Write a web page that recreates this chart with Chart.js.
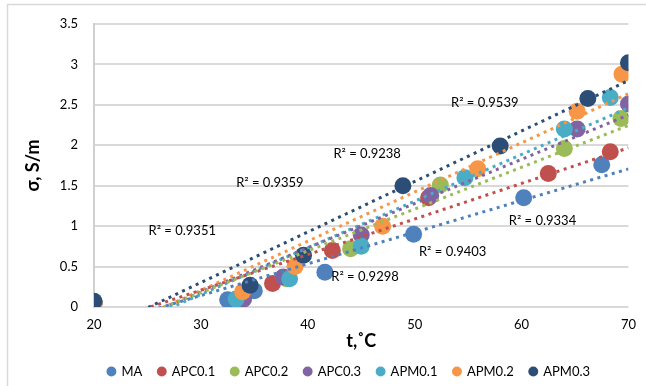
<!DOCTYPE html>
<html>
<head>
<meta charset="utf-8">
<script src="https://cdn.jsdelivr.net/npm/chart.js@4"></script>
<style>
  html, body { margin: 0; padding: 0; background: #fff; }
  #grafico { display: block; }
</style>
</head>
<body>
<canvas id="grafico" width="646" height="386"></canvas>
<script>
// series names and colours
const nomes = ['MA', 'APC0.1', 'APC0.2', 'APC0.3', 'APM0.1', 'APM0.2', 'APM0.3'];
const cores = ['#4F81BD', '#C0504D', '#9BBB59', '#8064A2', '#4BACC6', '#F79646', '#2C4D75'];

// t, °C  /  sigma, S/m
const MA_t = [20, 32.5, 35.0, 41.6, 49.9, 60.2, 67.5];
const MA_s = [0.05, 0.09, 0.20, 0.43, 0.90, 1.35, 1.76];
const APC01_t = [20, 33.5, 36.7, 42.3, 51.3, 62.5, 68.3];
const APC01_s = [0.05, 0.10, 0.29, 0.70, 1.35, 1.65, 1.92];
const APC02_t = [20, 33.9, 38.0, 44.0, 52.4, 64.0, 69.3];
const APC02_s = [0.05, 0.09, 0.35, 0.72, 1.51, 1.96, 2.33];
const APC03_t = [20, 34.0, 37.7, 45.0, 51.5, 65.2, 70.0];
const APC03_s = [0.05, 0.10, 0.37, 0.89, 1.38, 2.20, 2.51];
const APM01_t = [20, 33.3, 38.3, 45.0, 54.7, 64.0, 68.3];
const APM01_s = [0.05, 0.10, 0.35, 0.75, 1.60, 2.20, 2.59];
const APM02_t = [20, 33.9, 38.8, 47.0, 55.9, 65.2, 69.4];
const APM02_s = [0.05, 0.19, 0.50, 1.00, 1.71, 2.42, 2.88];
const APM03_t = [20, 34.6, 39.6, 48.9, 58.0, 66.2, 70.0];
const APM03_s = [0.07, 0.27, 0.64, 1.50, 1.99, 2.58, 3.02];

// R² labels and where they sit (data coords)
const r2_textos = ['R² = 0.9351', 'R² = 0.9359', 'R² = 0.9238', 'R² = 0.9539', 'R² = 0.9334', 'R² = 0.9403', 'R² = 0.9298'];
const r2_t = [25.1, 33.3, 42.4, 53.4, 58.8, 50.4, 42.2];
const r2_s = [0.94, 1.53, 1.90, 2.53, 1.06, 0.68, 0.37];

// x ticks / y ticks
const eixoX = [20, 30, 40, 50, 60, 70];
const eixoY = [0, 0.5, 1, 1.5, 2, 2.5, 3, 3.5];

const series_t = [MA_t, APC01_t, APC02_t, APC03_t, APM01_t, APM02_t, APM03_t];
const series_s = [MA_s, APC01_s, APC02_s, APC03_s, APM01_s, APM02_s, APM03_s];

const fonte = 'Lato, "Open Sans", sans-serif';

function Pontos(t, s) {
  return t.map((v, i) => ({ x: v, y: s[i] }));
}

// linear trend line (least squares) between x = 20 and x = 70
function Tendencia(t, s) {
  const n = t.length;
  const mx = t.reduce((a, b) => a + b, 0) / n;
  const my = s.reduce((a, b) => a + b, 0) / n;
  let sxy = 0, sxx = 0;
  for (let i = 0; i < n; i++) {
    sxy += (t[i] - mx) * (s[i] - my);
    sxx += (t[i] - mx) * (t[i] - mx);
  }
  const a = sxy / sxx;
  const b = my - a * mx;
  const x0 = eixoX[0], x1 = eixoX[eixoX.length - 1];
  return [{ x: x0, y: a * x0 + b }, { x: x1, y: a * x1 + b }];
}

const datasets = [];
nomes.forEach((nome, i) => {
  datasets.push({
    label: nome,
    data: Pontos(series_t[i], series_s[i]),
    backgroundColor: cores[i],
    borderColor: cores[i],
    borderWidth: 0,
    pointRadius: 8.5,
    pointHoverRadius: 8.5,
    order: nomes.length - i
  });
});
nomes.forEach((nome, i) => {
  datasets.push({
    label: 'trend ' + nome,
    data: Tendencia(series_t[i], series_s[i]),
    showLine: true,
    borderColor: cores[i],
    backgroundColor: cores[i],
    borderWidth: 3,
    borderDash: [3, 4.5],
    pointRadius: 0,
    fill: false,
    order: 0
  });
});

// frame around the chart, R² texts, legend nudge
const extras = {
  id: 'extras',
  afterLayout(chart) {
    const lg = chart.legend;
    lg.left += 30;
    lg.right += 30;
  },
  beforeDraw(chart) {
    const c = chart.ctx;
    c.save();
    c.strokeStyle = '#D9D9D9';
    c.lineWidth = 1.5;
    c.strokeRect(7.5, 4.5, 700, 500);
    c.restore();
  },
  afterDatasetsDraw(chart) {
    const c = chart.ctx;
    const sx = chart.scales.x, sy = chart.scales.y;
    c.save();
    c.font = '13px ' + fonte;
    c.fillStyle = '#000';
    c.textBaseline = 'middle';
    c.textAlign = 'left';
    r2_textos.forEach((txt, i) => {
      c.fillText(txt, sx.getPixelForValue(r2_t[i]), sy.getPixelForValue(r2_s[i]));
    });
    c.restore();
  }
};

const config = {
  type: 'scatter',
  data: { datasets },
  options: {
    responsive: false,
    animation: false,
    layout: { padding: { left: 8, right: 16, top: 24, bottom: -2 } },
    scales: {
      x: {
        type: 'linear',
        min: 20,
        max: 70,
        afterBuildTicks(scale) { scale.ticks = eixoX.map(v => ({ value: v })); },
        afterFit(scale) { scale.height = 42; },
        grid: { display: false, drawTicks: false },
        border: { display: false },
        ticks: { padding: 10, color: '#000', font: { family: fonte, size: 13 } },
        title: {
          display: true,
          text: 't,˚C',
          color: '#000',
          padding: { top: 0, bottom: -3 },
          font: { family: fonte, size: 18, weight: 'bold' }
        }
      },
      y: {
        min: 0,
        max: 3.5,
        afterBuildTicks(scale) { scale.ticks = eixoY.map(v => ({ value: v })); },
        afterFit(scale) { scale.width = 86; },
        grid: { color: '#D9D9D9', lineWidth: 2, drawTicks: false },
        border: { display: true, color: '#D0D0D0', width: 2 },
        ticks: {
          padding: 16,
          color: '#000',
          font: { family: fonte, size: 13 },
          callback: v => String(v)
        },
        title: {
          display: true,
          text: 'σ, S/m',
          color: '#000',
          padding: { top: 14, bottom: 0 },
          font: { family: fonte, size: 18, weight: 'bold' }
        }
      }
    },
    plugins: {
      legend: {
        position: 'bottom',
        labels: {
          usePointStyle: true,
          pointStyle: 'circle',
          boxWidth: 7,
          boxHeight: 7,
          padding: 16,
          color: '#000',
          font: { family: fonte, size: 13 },
          filter: item => !item.text.startsWith('trend'),
          sort: (a, b) => a.datasetIndex - b.datasetIndex
        }
      },
      tooltip: { enabled: false }
    }
  },
  plugins: [extras]
};

const grafico = new Chart(document.getElementById('grafico').getContext('2d'), config);
</script>
</body>
</html>
